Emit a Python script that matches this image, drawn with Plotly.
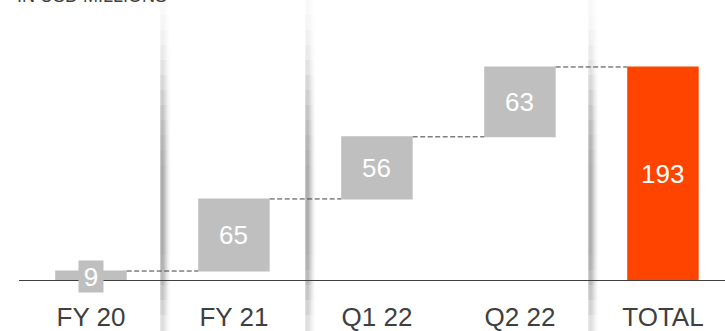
import plotly.graph_objects as go
import numpy as np

# --- data -------------------------------------------------------------
categories = ["FY 20", "FY 21", "Q1 22", "Q2 22", "TOTAL"]
increments = [9, 65, 56, 63]
total_value = 193
unit_note = "IN USD MILLIONS"

# --- styling ----------------------------------------------------------
W, H = 725, 331
BOTTOM_MARGIN = 50
GREY = "#bfbfbf"
ORANGE = "#ff4400"
INK = "#3f3f3f"
FONT = "Liberation Sans, Arial, sans-serif"

x_pos = list(range(len(categories)))
measures = ["relative"] * len(increments) + ["total"]
y_vals = increments + [total_value]

fig = go.Figure()

fig.add_trace(go.Waterfall(
    x=x_pos,
    y=y_vals,
    measure=measures,
    width=0.5,
    textposition="none",
    increasing=dict(marker=dict(color=GREY, line=dict(width=0))),
    decreasing=dict(marker=dict(color=GREY, line=dict(width=0))),
    totals=dict(marker=dict(color=ORANGE, line=dict(width=0))),
    connector=dict(mode="between", line=dict(color=INK, width=1, dash="5px,2.5px")),
    hoverinfo="skip",
    showlegend=False,
))

# value labels placed at the middle of each bar
tops = np.cumsum(increments)
bases = tops - np.array(increments)
mids = list(bases + np.array(increments) / 2) + [total_value / 2]
labels = [str(v) for v in increments] + [str(total_value)]
for i, (m, t) in enumerate(zip(mids, labels)):
    small = (i < len(increments)) and increments[i] < 20
    ann = dict(x=x_pos[i], y=m, text=t, showarrow=False,
               font=dict(family=FONT, size=26, color="white"),
               xanchor="center", yanchor="middle")
    if small:
        ann.update(bgcolor=GREY, width=24, height=31, borderpad=0)
    fig.add_annotation(**ann)

# unit note at the top-left corner
fig.add_annotation(x=15 / W, y=1, xref="paper", yref="paper",
                   xanchor="left", yanchor="bottom", yshift=-8,
                   text=unit_note, showarrow=False,
                   font=dict(family=FONT, size=18, color=INK))

# soft vertical shadow dividers between category groups
plot_h = H - BOTTOM_MARGIN
def px_to_paper_y(py):
    return (plot_h - py) / plot_h

divider_left_px = [160, 305, 588]
col_alpha = [0.7, 0.95, 1.0, 0.92, 0.78, 0.6, 0.44, 0.3, 0.18, 0.09, 0.03]
band_edges = [0, 15, 30, 45, 60, 75, 90, 105, 120, 135, 150, 165, 180,
              195, 210, 225, 240, 255, 270, 285, 300, 315, 331]
band_alpha = [0.08, 0.12, 0.18, 0.26, 0.36, 0.48, 0.6, 0.72, 0.82, 0.9,
              0.96, 1.0, 1.0, 1.0, 1.0, 1.0, 1.0, 0.95, 0.85, 0.7,
              0.55, 0.4]
shapes = []
for xl in divider_left_px:
    for c, ca in enumerate(col_alpha):
        for b, ba in enumerate(band_alpha):
            a = 0.72 * ca * ba
            shapes.append(dict(
                type="rect", xref="paper", yref="paper",
                x0=(xl + c) / W, x1=(xl + c + 1) / W,
                y0=px_to_paper_y(band_edges[b + 1]), y1=px_to_paper_y(band_edges[b]),
                fillcolor=f"rgba(140,140,140,{a:.3f})",
                line=dict(width=0), layer="below"))

# baseline
shapes.append(dict(type="line", xref="paper", yref="y",
                   x0=19 / W, x1=1, y0=0, y1=0,
                   line=dict(color=INK, width=2), layer="above"))

fig.update_layout(
    width=W, height=H,
    margin=dict(l=0, r=0, t=0, b=BOTTOM_MARGIN, autoexpand=False),
    paper_bgcolor="white",
    plot_bgcolor="rgba(0,0,0,0)",
    shapes=shapes,
    xaxis=dict(range=[-0.636, 4.434], tickmode="array", tickvals=x_pos,
               ticktext=categories, showgrid=False, zeroline=False,
               showline=False, ticks="", ticklabelstandoff=18,
               automargin=False,
               tickfont=dict(family=FONT, size=26, color=INK)),
    yaxis=dict(range=[0, 253.4], visible=False, showgrid=False,
               zeroline=False, automargin=False),
    font=dict(family=FONT),
)

fig.write_html("out.html")
